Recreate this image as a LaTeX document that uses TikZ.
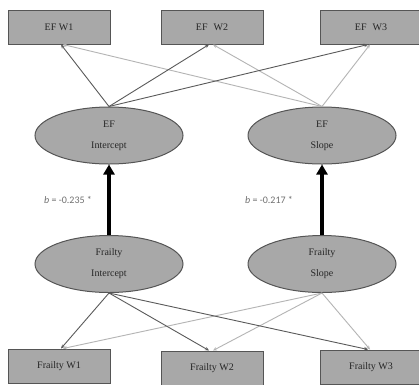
\documentclass[tikz,border=0pt]{standalone}
\usepackage{fontspec}
\setmainfont{Liberation Serif}
\newfontfamily\labelfont{Carlito}
\usetikzlibrary{arrows.meta,shapes.geometric}
\definecolor{boxfill}{HTML}{A8A8A8}
\definecolor{boxline}{HTML}{555555}
\definecolor{darkpath}{HTML}{5A5A5A}
\definecolor{lightpath}{HTML}{B4B4B4}
\definecolor{labelgray}{HTML}{707070}
\definecolor{nodetext}{HTML}{262626}
\begin{document}
\begin{tikzpicture}[x=1pt,y=-1pt,
  obsbox/.style={draw=boxline,line width=1pt,fill=boxfill,minimum width=102pt,minimum height=34pt,inner sep=0pt,text=nodetext,font=\fontsize{10}{12}\selectfont},
  latent/.style={draw=boxline,line width=1pt,fill=boxfill,ellipse,minimum width=148pt,minimum height=57pt,inner sep=0pt,align=center,text=nodetext,font=\fontsize{10}{21}\selectfont},
  loaddark/.style={draw=darkpath,line width=0.9pt,-{Stealth[length=4pt,width=3.5pt]}},
  loadlight/.style={draw=lightpath,line width=0.9pt,-{Stealth[length=4pt,width=3.5pt]}},
  regress/.style={draw=black,line width=3.2pt,-{Triangle[length=10pt,width=11pt]}},
  coef/.style={text=labelgray,font=\labelfont\fontsize{10}{12}\selectfont,inner sep=0pt}
]
\useasboundingbox (0,0) rectangle (419,384);
\fill[white] (0,0) rectangle (419,384);

% observed measures
\node[obsbox] (efw1) at (59,27) {EF W1};
\node[obsbox] (efw2) at (212,27) {EF\hspace{0.6em}W2};
\node[obsbox] (efw3) at (371,27) {EF\hspace{0.6em}W3};
\node[obsbox] (frw1) at (59,366) {Frailty W1};
\node[obsbox] (frw2) at (212,368) {Frailty W2};
\node[obsbox] (frw3) at (371,367) {Frailty W3};

% growth factors
\node[latent] (efi) at (109,135.5) {EF\\Intercept};
\node[latent] (efs) at (322,135.5) {EF\\Slope};
\node[latent] (fri) at (109,264) {Frailty\\Intercept};
\node[latent] (frs) at (322,264) {Frailty\\Slope};

% loadings of the EF factors
\draw[loadlight] (efs.north) -- ([xshift=4pt]efw1.south);
\draw[loadlight] (efs.north) -- ([xshift=1pt]efw2.south);
\draw[loadlight] (efs.north) -- ([xshift=-1pt]efw3.south);
\draw[loaddark] (efi.north) -- ([xshift=2pt]efw1.south);
\draw[loaddark] (efi.north) -- ([xshift=-3pt]efw2.south);
\draw[loaddark] (efi.north) -- ([xshift=-3pt]efw3.south);

% loadings of the frailty factors
\draw[loadlight] (frs.south) -- ([xshift=4pt]frw1.north);
\draw[loadlight] (frs.south) -- ([xshift=1pt]frw2.north);
\draw[loadlight] (frs.south) -- ([xshift=-1pt]frw3.north);
\draw[loaddark] (fri.south) -- ([xshift=2pt]frw1.north);
\draw[loaddark] (fri.south) -- ([xshift=-3pt]frw2.north);
\draw[loaddark] (fri.south) -- ([xshift=-3pt]frw3.north);

% structural paths
\draw[regress] (fri.north) -- (efi.south);
\draw[regress] (frs.north) -- (efs.south);
\node[coef,anchor=west] (b1) at (44,200) {\textit{b} = -0.235 *};
\node[coef,anchor=west] (b2) at (245,200) {\textit{b} = -0.217 *};
\end{tikzpicture}
\end{document}
